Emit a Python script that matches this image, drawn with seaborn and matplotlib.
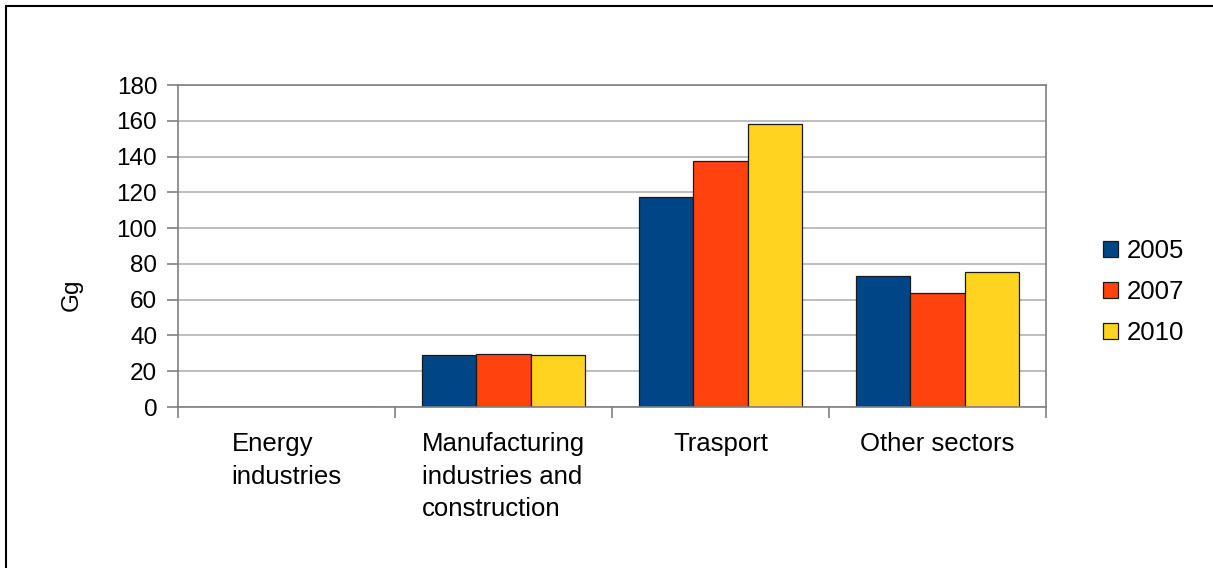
import matplotlib
matplotlib.use("Agg")
import matplotlib.pyplot as plt
import seaborn as sns
import pandas as pd
from matplotlib.lines import Line2D
from matplotlib.ticker import FixedLocator, NullFormatter

categories = ["Energy\nindustries", "Manufacturing\nindustries and\nconstruction", "Trasport", "Other sectors"]
years = ["2005", "2007", "2010"]
v2005 = [0, 28.8, 117.4, 73.3]
v2007 = [0, 29.8, 137.4, 63.5]
v2010 = [0, 29.3, 158.3, 75.3]
yticks = [0, 20, 40, 60, 80, 100, 120, 140, 160, 180]
colors = ["#004586", "#ff420e", "#ffd320"]

rows = []
for y, vals in zip(years, [v2005, v2007, v2010]):
    for c, v in zip(categories, vals):
        rows.append({"Sector": c, "Year": y, "Gg": v})
df = pd.DataFrame(rows)

sns.set_theme(style="white")
plt.rcParams["font.family"] = ["Liberation Sans", "DejaVu Sans"]
plt.rcParams["text.color"] = "black"
plt.rcParams["xtick.labelcolor"] = "black"
plt.rcParams["ytick.labelcolor"] = "black"

fig = plt.figure(figsize=(12.13, 5.68), dpi=100)
ax = fig.add_axes([178/1213, 1-407/568, (1046-178)/1213, (407-85)/568])

sns.barplot(data=df, x="Sector", y="Gg", hue="Year", order=categories, hue_order=years,
            palette=colors, width=0.75, edgecolor="#1a1a1a", linewidth=0.9, ax=ax,
            saturation=1, legend=True)

ax.set_ylim(0, 180)
ax.set_xlim(-0.5, 3.5)
ax.set_yticks(yticks)
ax.set_yticklabels([str(t) for t in yticks])
ax.yaxis.grid(True, color="#b3b3b3", linewidth=1.2)
ax.set_axisbelow(True)

ax.xaxis.set_major_locator(FixedLocator([-0.5, 0.5, 1.5, 2.5, 3.5]))
ax.xaxis.set_major_formatter(NullFormatter())
ax.xaxis.set_minor_locator(FixedLocator([0, 1, 2, 3]))
ax.set_xticklabels(categories, minor=True)
for lab in ax.get_xticklabels(minor=True):
    lab.set_multialignment("left")
    lab.set_verticalalignment("top")
    lab.set_linespacing(1.45)
    lab.set_color("black")
ax.tick_params(axis="x", which="minor", length=0, pad=18, labelsize=18.5, labelcolor="black")
ax.tick_params(axis="x", which="major", length=8, width=1.2, color="#808080", direction="out", bottom=True)
ax.tick_params(axis="y", length=8, width=1.2, color="#808080", direction="out", left=True,
               labelsize=17.5, pad=7, labelcolor="black")

for s in ax.spines.values():
    s.set_visible(True)
    s.set_color("#808080")
    s.set_linewidth(1.2)

ax.set_xlabel("")
ax.set_ylabel("Gg", fontsize=17.5, color="black")
ax.yaxis.set_label_coords(-0.110, 0.348)

handles, labels = ax.get_legend_handles_labels()
ax.legend(handles, labels, loc="upper left", bbox_to_anchor=(1103/1213, 1-239/568),
          bbox_transform=fig.transFigure, frameon=False, fontsize=18.5,
          handlelength=0.58, handleheight=0.58, handletextpad=0.35,
          labelspacing=0.67, borderpad=0, borderaxespad=0)

fig.add_artist(Line2D([6/1213, 6/1213], [0, 1-6/568], transform=fig.transFigure, color="black", linewidth=1.5))
fig.add_artist(Line2D([6/1213, 1], [1-6/568, 1-6/568], transform=fig.transFigure, color="black", linewidth=1.5))

fig.savefig("out.png", dpi=100)
